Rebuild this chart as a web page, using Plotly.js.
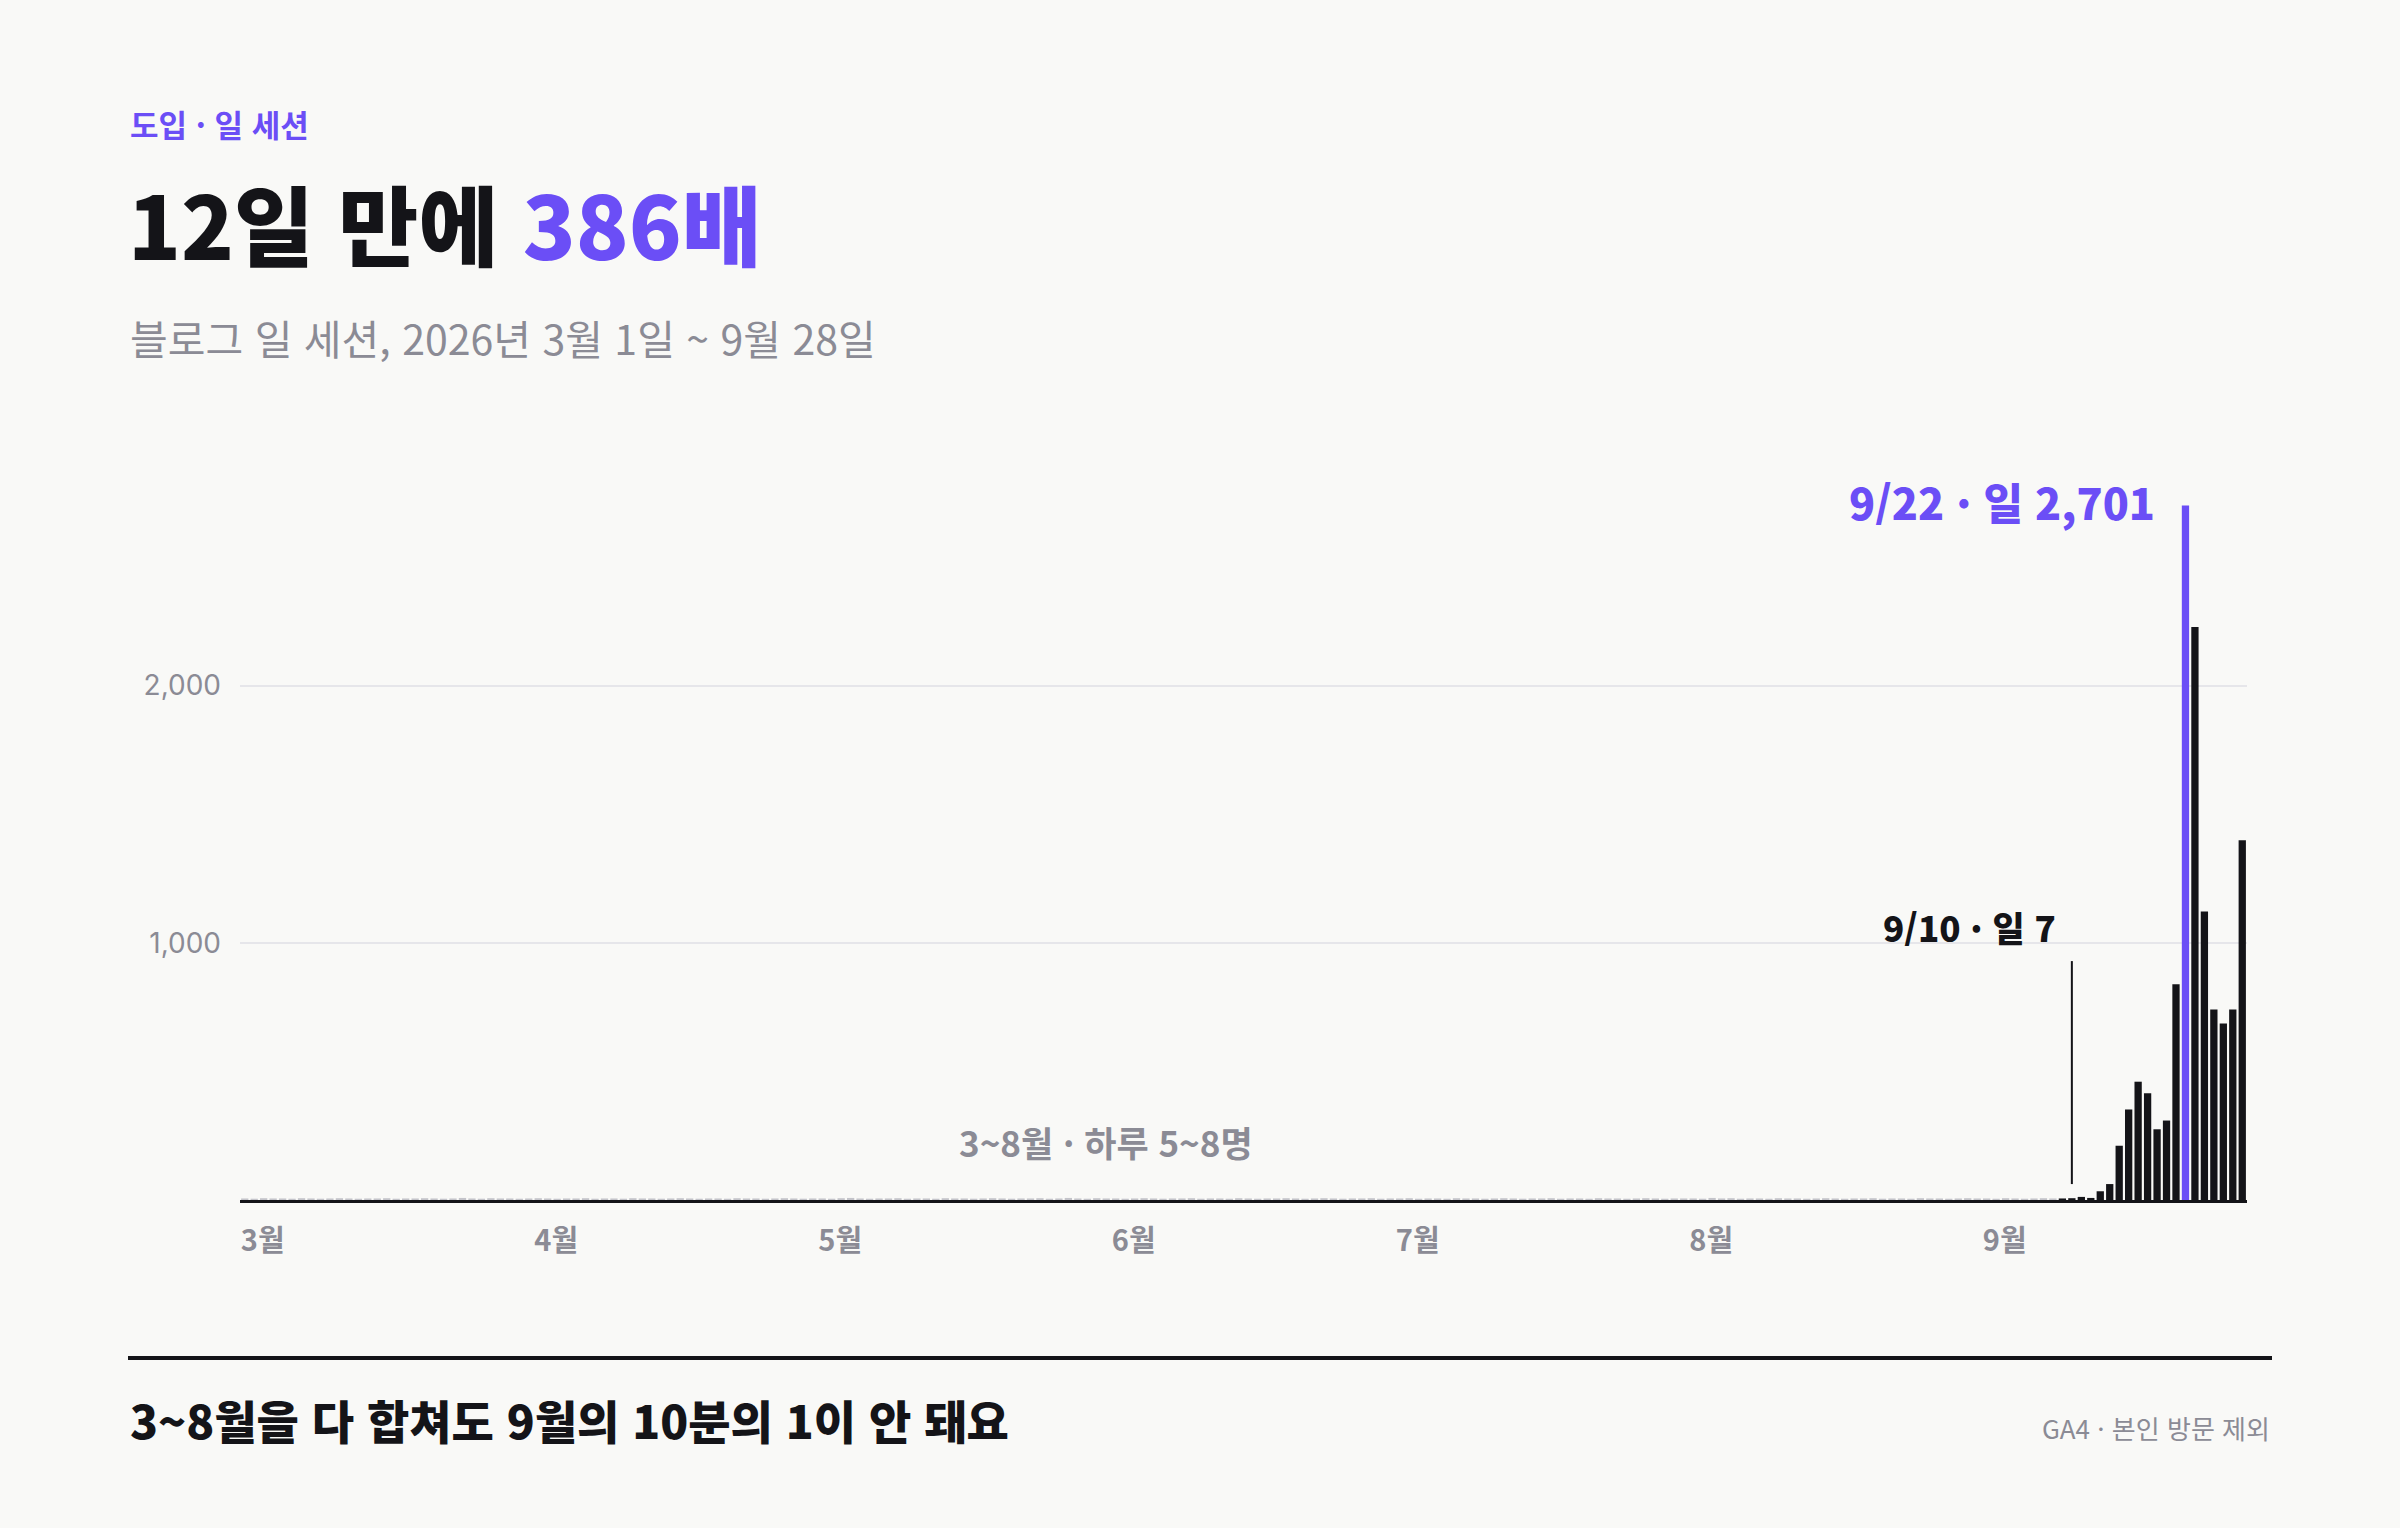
<!DOCTYPE html>
<html lang="ko">
<head>
<meta charset="utf-8">
<script src="https://cdn.plot.ly/plotly-3.0.1.min.js"></script>
<style>
  html, body { margin: 0; padding: 0; background: #f9f9f7; }
  #chart { width: 2400px; height: 1528px; }
</style>
</head>
<body>
<div id="chart"></div>
<script>
// daily blog sessions, 2026-03-01 .. 2026-09-28
var mar = [6,5,7,6,6,5,7,6,5,6, 7,6,5,6,6,7,5,6,6,7, 6,5,6,8,6,5,7,6,6,5, 6];
var apr = [7,6,5,6,6,7,5,6,6,5, 7,6,6,5,6,7,6,5,6,6, 5,7,6,6,5,6,7,6,5,6];
var may = [6,5,7,8,6,5,6,6,7,5, 6,6,5,7,6,6,5,6,7,6, 5,6,6,7,5,6,8,6,5,7, 6];
var jun = [6,5,6,7,6,5,6,6,7,5, 6,6,5,7,6,5,6,6,7,6, 5,6,7,6,5,6,6,7,5,6];
var jul = [6,7,5,6,6,5,7,6,6,5, 6,7,6,5,6,6,7,5,6,6, 5,7,6,6,5,6,7,6,5,6, 6];
var aug = [6,5,8,6,7,5,6,6,5,7, 6,6,5,6,7,6,5,6,6,7, 5,6,6,5,7,6,6,5,6,7, 6];
var sep = [6,5,7,6,5,6,7,6, 6,7,12,8,34,62,211,352,460,415,275,309,839,2701,2228,1122,741,686,741,1399];

var monthTicks = ["2026-03-01","2026-04-01","2026-05-01","2026-06-01","2026-07-01","2026-08-01","2026-09-01"];
var monthLabels = ["3월","4월","5월","6월","7월","8월","9월"];
var yTicks = [1000, 2000];
var yLabels = ["1,000", "2,000"];

var launchDay = "2026-09-09";
var peakDay = "2026-09-22";
var lowDay = "2026-09-10";

var values = [].concat(mar, apr, may, jun, jul, aug, sep);

function pad(n) { return n < 10 ? "0" + n : "" + n; }
var dates = [];
var d = new Date(Date.UTC(2026, 2, 1));
for (var i = 0; i < values.length; i++) {
    dates.push(d.getUTCFullYear() + "-" + pad(d.getUTCMonth() + 1) + "-" + pad(d.getUTCDate()));
    d.setUTCDate(d.getUTCDate() + 1);
}

var PURPLE = "#6b4ef6";
var INK = "#141418";
var GREY = "#8b8b95";
var FONT = "'Noto Sans CJK KR', 'Noto Sans', sans-serif";

var colors = dates.map(function (dt) {
    if (dt === peakDay) return PURPLE;
    if (dt >= launchDay) return INK;
    return "#c4c4ca";
});

var peakIdx = dates.indexOf(peakDay);
var lowIdx = dates.indexOf(lowDay);

var trace = {
    type: "bar",
    x: dates,
    y: values,
    marker: { color: colors, line: { width: 0 } },
    hoverinfo: "x+y"
};

// paper coords: plot spans x 240..2247, y 456..1200 px
function px(x) { return (x - 240) / 2007; }
function py(y) { return (1200 - y) / 744; }

var layout = {
    width: 2400,
    height: 1528,
    paper_bgcolor: "#f9f9f7",
    plot_bgcolor: "#f9f9f7",
    margin: { l: 240, r: 153, t: 456, b: 328 },
    bargap: 0.23,
    showlegend: false,
    font: { family: FONT, color: INK },
    title: {
        text: "12일 만에 <span style='color:" + PURPLE + "'>386배</span>",
        font: { family: FONT, size: 87, weight: 900, color: INK },
        xref: "container", yref: "container",
        x: 128 / 2400, xanchor: "left",
        y: 1 - 230 / 1528, yanchor: "middle"
    },
    xaxis: {
        type: "date",
        range: ["2026-02-28 12:00", "2026-09-28 12:00"],
        tickmode: "array",
        tickvals: monthTicks,
        ticktext: monthLabels,
        ticks: "",
        ticklabelshift: 18,
        ticklabelstandoff: 13,
        tickfont: { family: FONT, size: 29, weight: 700, color: GREY },
        showgrid: false,
        zeroline: false,
        showline: true,
        linecolor: INK,
        linewidth: 3,
        fixedrange: true
    },
    yaxis: {
        range: [0, 2893],
        tickmode: "array",
        tickvals: yTicks,
        ticktext: yLabels,
        ticks: "",
        ticklabelstandoff: 18,
        tickfont: { family: "Inter, " + FONT, size: 28, color: GREY },
        showgrid: true,
        gridcolor: "#e6e6ea",
        gridwidth: 2,
        zeroline: false,
        showline: false,
        fixedrange: true
    },
    shapes: [
        {
            type: "line", xref: "x", yref: "y",
            x0: dates[lowIdx], x1: dates[lowIdx], y0: 62, y1: 929,
            line: { color: INK, width: 2 }
        },
        {
            type: "line", xref: "paper", yref: "paper",
            x0: px(128), x1: px(2272), y0: py(1358), y1: py(1358),
            line: { color: INK, width: 4 }
        }
    ],
    annotations: [
        {
            text: "도입 · 일 세션",
            xref: "paper", yref: "paper", x: px(128), y: py(124),
            xanchor: "left", yanchor: "middle", showarrow: false,
            font: { family: FONT, size: 31, weight: 700, color: PURPLE }
        },
        {
            text: "블로그 일 세션, 2026년 3월 1일 ~ 9월 28일",
            xref: "paper", yref: "paper", x: px(128), y: py(337),
            xanchor: "left", yanchor: "middle", showarrow: false,
            font: { family: FONT, size: 41, weight: 400, color: GREY }
        },
        {
            text: "9/22 · 일 " + values[peakIdx].toLocaleString("en-US"),
            xref: "x", yref: "y", x: dates[peakIdx], y: values[peakIdx],
            xanchor: "right", yanchor: "middle", xshift: -28, yshift: 4, showarrow: false,
            font: { family: FONT, size: 43, weight: 800, color: PURPLE }
        },
        {
            text: "9/10 · 일 " + values[lowIdx],
            xref: "x", yref: "y", x: dates[lowIdx], y: 1054,
            xanchor: "right", yanchor: "middle", xshift: -14, yshift: 2, showarrow: false,
            font: { family: FONT, size: 35, weight: 800, color: INK }
        },
        {
            text: "3~8월 · 하루 5~8명",
            xref: "x", yref: "y", x: "2026-05-31", y: 226,
            xanchor: "center", yanchor: "middle", showarrow: false,
            font: { family: FONT, size: 35, weight: 700, color: GREY }
        },
        {
            text: "3~8월을 다 합쳐도 9월의 10분의 1이 안 돼요",
            xref: "paper", yref: "paper", x: px(128), y: py(1419),
            xanchor: "left", yanchor: "middle", showarrow: false,
            font: { family: FONT, size: 46, weight: 900, color: INK }
        },
        {
            text: "GA4 · 본인 방문 제외",
            xref: "paper", yref: "paper", x: px(2272), y: py(1427),
            xanchor: "right", yanchor: "middle", showarrow: false,
            font: { family: FONT, size: 26, weight: 400, color: GREY }
        }
    ]
};

Plotly.newPlot("chart", [trace], layout, { displayModeBar: false, staticPlot: true });
</script>
</body>
</html>
